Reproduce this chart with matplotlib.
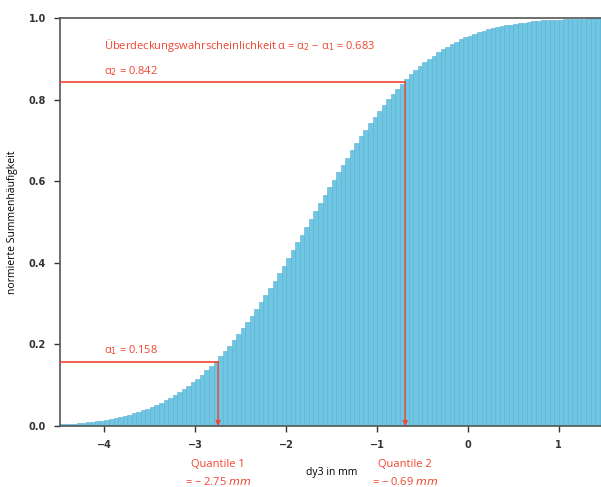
import numpy as np
import matplotlib
matplotlib.use("Agg")
import matplotlib.pyplot as plt

# kumulierte Häufigkeit je Klasse (rechte Klassengrenze)
bin_start = -4.5
bin_width = 0.05
cum_freq = [
    0.004, 0.005, 0.005, 0.006, 0.007, 0.008, 0.009, 0.010, 0.012, 0.013,
    0.015, 0.017, 0.019, 0.022, 0.024, 0.027, 0.031, 0.034, 0.038, 0.042,
    0.047, 0.051, 0.057, 0.063, 0.069, 0.075, 0.083, 0.090, 0.098, 0.107,
    0.116, 0.126, 0.136, 0.147, 0.159, 0.171, 0.183, 0.197, 0.210, 0.225,
    0.239, 0.255, 0.270, 0.287, 0.303, 0.321, 0.338, 0.356, 0.374, 0.393,
    0.412, 0.431, 0.450, 0.469, 0.488, 0.508, 0.527, 0.546, 0.566, 0.585,
    0.603, 0.622, 0.640, 0.658, 0.676, 0.693, 0.710, 0.726, 0.742, 0.758,
    0.773, 0.787, 0.801, 0.814, 0.827, 0.839, 0.851, 0.862, 0.872, 0.882,
    0.891, 0.900, 0.908, 0.916, 0.923, 0.930, 0.936, 0.942, 0.948, 0.953,
    0.957, 0.961, 0.965, 0.969, 0.972, 0.975, 0.978, 0.980, 0.982, 0.984,
    0.986, 0.988, 0.989, 0.991, 0.992, 0.993, 0.994, 0.995, 0.995, 0.996,
    0.996, 0.997, 0.997, 0.998, 0.998, 0.998, 0.999, 0.999, 0.999, 0.999,
]
alpha1, q1 = 0.158, -2.75
alpha2, q2 = 0.842, -0.69

red = '#f0452f'
fig = plt.figure(figsize=(6.01, 4.87), dpi=100)
ax = fig.add_axes([0.0998, 0.1253, 0.9002, 0.8377])

lefts = bin_start + bin_width * np.arange(len(cum_freq))
ax.bar(lefts, cum_freq, width=bin_width, align='edge',
       color='#6ec6e3', edgecolor='#5aaed0', linewidth=0.4)

xmin, xmax = -4.49, 1.465
ax.set_xlim(xmin, xmax)
ax.set_ylim(0, 1.0)

# Quantile markieren
for a, q in [(alpha1, q1), (alpha2, q2)]:
    ax.plot([xmin, q], [a, a], color=red, lw=1.2, zorder=3)
    ax.annotate('', xy=(q, 0), xytext=(q, a),
                arrowprops=dict(arrowstyle='-|>', color=red, lw=1.0,
                                mutation_scale=7, shrinkA=0, shrinkB=0),
                zorder=3)

tfont = dict(color=red, fontsize=8, family='Open Sans')
ax.text(-4.0, alpha2 + 0.012, 'α$_2$ = 0.842', va='bottom', **tfont)
ax.text(-4.0, alpha1 + 0.012, 'α$_1$ = 0.158', va='bottom', **tfont)
ax.text(-4.0, 0.932,
        'Überdeckungswahrscheinlichkeit α = α$_2$ \u2212 α$_1$ = 0.683',
        va='center', **tfont)

trans = ax.get_xaxis_transform()
for name, q in [('Quantile 1', q1), ('Quantile 2', q2)]:
    ax.text(q, -0.095, name, transform=trans, ha='center', va='center', **tfont)
    ax.text(q, -0.137, '= \u2212 %.2f $mm$' % abs(q), transform=trans,
            ha='center', va='center', **tfont)

ax.set_xticks([-4, -3, -2, -1, 0, 1])
ax.set_xticklabels(['\u22124', '\u22123', '\u22122', '\u22121', '0', '1'])
ax.set_yticks([0.0, 0.2, 0.4, 0.6, 0.8, 1.0])
ax.set_yticklabels(['0.0', '0.2', '0.4', '0.6', '0.8', '1.0'])
ax.tick_params(labelsize=7, colors='#333333', length=4, width=1, pad=6)
for lab in ax.get_xticklabels() + ax.get_yticklabels():
    lab.set_fontweight('bold')

ax.set_xlabel('dy3 in mm', fontsize=7.5, family='Open Sans', labelpad=2)
ax.set_ylabel('normierte Summenhäufigkeit', fontsize=7.5, family='Open Sans', labelpad=8)
ax.xaxis.set_label_coords(0.503, -0.1)

for s in ['left', 'bottom', 'top']:
    ax.spines[s].set_color('#555555')
    ax.spines[s].set_linewidth(1.2)
ax.spines['right'].set_visible(False)

fig.savefig('out.png', dpi=100)
